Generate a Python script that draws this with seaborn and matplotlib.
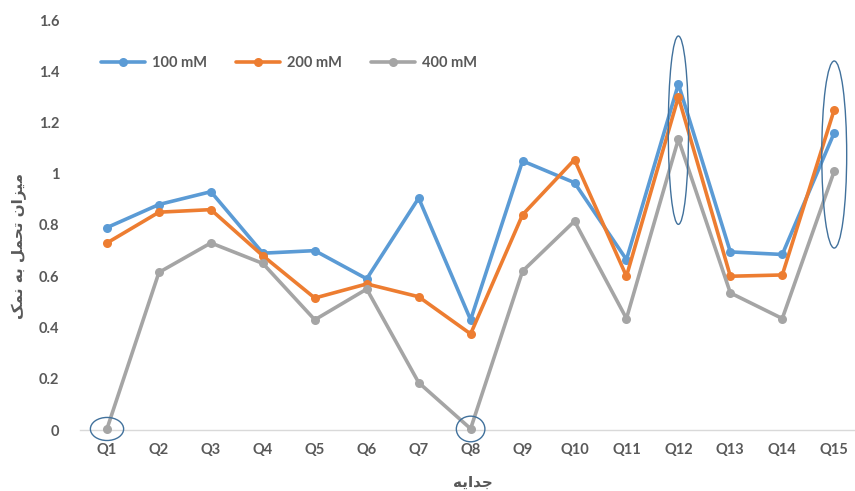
import matplotlib
matplotlib.use("Agg")
import matplotlib.pyplot as plt
from matplotlib.patches import Ellipse
import numpy as np
import pandas as pd
import seaborn as sns

# ---- data -------------------------------------------------------------
categories = ["Q1", "Q2", "Q3", "Q4", "Q5", "Q6", "Q7", "Q8",
              "Q9", "Q10", "Q11", "Q12", "Q13", "Q14", "Q15"]
series_names = ["100 mM", "200 mM", "400 mM"]
values_100 = [0.79, 0.88, 0.93, 0.69, 0.70, 0.59, 0.905, 0.43,
              1.05, 0.965, 0.665, 1.35, 0.695, 0.685, 1.16]
values_200 = [0.73, 0.85, 0.86, 0.68, 0.515, 0.57, 0.52, 0.375,
              0.84, 1.055, 0.60, 1.30, 0.60, 0.605, 1.25]
values_400 = [0.005, 0.615, 0.73, 0.65, 0.43, 0.55, 0.185, 0.005,
              0.62, 0.815, 0.435, 1.135, 0.535, 0.435, 1.01]
y_ticks = [0, 0.2, 0.4, 0.6, 0.8, 1, 1.2, 1.4, 1.6]
y_tick_labels = ["0", "0.2", "0.4", "0.6", "0.8", "1", "1.2", "1.4", "1.6"]
y_title = "میزان تحمل به نمک"
x_title = "جدایه"
colors = ["#5B9BD5", "#ED7D31", "#A5A5A5"]


# ---- minimal Arabic-script shaping (matplotlib has no bidi/shaping) ----
FORMS = {  # letter: (isolated, final, initial, medial)
    "ا": ("\uFE8D", "\uFE8E", "\uFE8D", "\uFE8E"),
    "ب": ("\uFE8F", "\uFE90", "\uFE91", "\uFE92"),
    "ت": ("\uFE95", "\uFE96", "\uFE97", "\uFE98"),
    "ج": ("\uFE9D", "\uFE9E", "\uFE9F", "\uFEA0"),
    "ح": ("\uFEA1", "\uFEA2", "\uFEA3", "\uFEA4"),
    "د": ("\uFEA9", "\uFEAA", "\uFEA9", "\uFEAA"),
    "ز": ("\uFEAF", "\uFEB0", "\uFEAF", "\uFEB0"),
    "ل": ("\uFEDD", "\uFEDE", "\uFEDF", "\uFEE0"),
    "م": ("\uFEE1", "\uFEE2", "\uFEE3", "\uFEE4"),
    "ن": ("\uFEE5", "\uFEE6", "\uFEE7", "\uFEE8"),
    "ه": ("\uFEE9", "\uFEEA", "\uFEEB", "\uFEEC"),
    "ک": ("\uFB8E", "\uFB8F", "\uFB90", "\uFB91"),
    "ی": ("\uFBFC", "\uFBFD", "\uFBFE", "\uFBFF"),
}
RIGHT_ONLY = set("اددذرزژو")


def shape(text):
    out = []
    for i, ch in enumerate(text):
        if ch not in FORMS:
            out.append(ch)
            continue
        prev = text[i - 1] if i > 0 else " "
        nxt = text[i + 1] if i + 1 < len(text) else " "
        joins_prev = prev in FORMS and prev not in RIGHT_ONLY
        joins_next = nxt in FORMS and ch not in RIGHT_ONLY
        idx = {(False, False): 0, (True, False): 1,
               (False, True): 2, (True, True): 3}[(joins_prev, joins_next)]
        out.append(FORMS[ch][idx])
    return "".join(out)[::-1]


# ---- long-form table ----------------------------------------------------
pos = np.arange(len(categories))
df = pd.concat([
    pd.DataFrame({"x": pos, "value": vals, "series": name})
    for name, vals in zip(series_names, [values_100, values_200, values_400])
], ignore_index=True)

sns.set_theme(style="white")
plt.rcParams["font.family"] = ["Lato", "DejaVu Sans"]
text_color = "#595959"

fig = plt.figure(figsize=(8.55, 4.91), dpi=100)
ax = fig.add_axes([80 / 855, 1 - 430 / 491, 775 / 855, 410 / 491])

sns.lineplot(data=df, x="x", y="value", hue="series", hue_order=series_names,
             palette=colors, marker="o", markersize=6.5, markeredgewidth=0,
             linewidth=2.6, sort=False, ax=ax, clip_on=False, zorder=3)

ax.set_xlim(-0.52, 14.40)
ax.set_ylim(0, 1.6)
ax.set_xticks(pos)
ax.set_xticklabels(categories)
ax.set_yticks(y_ticks)
ax.set_yticklabels(y_tick_labels)
ax.tick_params(axis="both", length=0, labelsize=10.5, labelcolor=text_color)
ax.tick_params(axis="y", pad=15)
ax.tick_params(axis="x", pad=9)
for lbl in ax.get_xticklabels() + ax.get_yticklabels():
    lbl.set_fontweight("bold")

for side in ["top", "right", "left"]:
    ax.spines[side].set_visible(False)
ax.spines["bottom"].set_color("#D9D9D9")
ax.spines["bottom"].set_linewidth(1.0)
ax.set_xlabel("")
ax.set_ylabel("")

# highlighted isolates
for cx, cy, w, h in [(0, 0.004, 0.64, 0.09), (7, 0.004, 0.55, 0.10),
                     (11, 1.17, 0.39, 0.735), (14, 1.075, 0.48, 0.73)]:
    ax.add_patch(Ellipse((cx, cy), w, h, fill=False, edgecolor="#41719C",
                         linewidth=1.0, clip_on=False, zorder=4))

leg = ax.legend(loc="upper left", bbox_to_anchor=(0.01, 0.945), ncol=3,
                frameon=False, handlelength=3.0, columnspacing=2.0,
                handletextpad=0.5, prop={"size": 10.5, "weight": "bold"})
for t in leg.get_texts():
    t.set_color(text_color)

fig.text(19 / 855, 1 - 246 / 491, shape(y_title), rotation=90, ha="center",
         va="center", fontsize=11, fontweight="bold", color=text_color,
         family=["DejaVu Sans"])
fig.text(473 / 855, 1 - 482 / 491, shape(x_title), ha="center", va="center",
         fontsize=11, fontweight="bold", color=text_color,
         family=["DejaVu Sans"])

fig.savefig("out.png", dpi=100)
